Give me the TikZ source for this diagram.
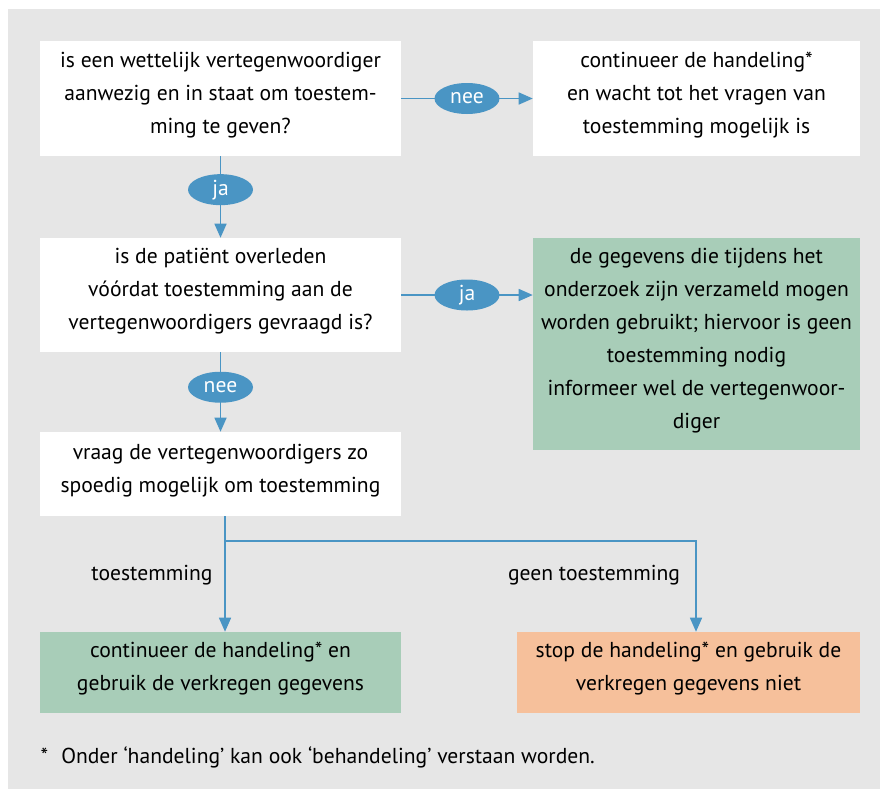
\documentclass[tikz,border=0pt]{standalone}
\usepackage{fontspec}
\setmainfont{PT Sans}
\usetikzlibrary{arrows.meta, shapes.geometric}

\definecolor{bggrey}{HTML}{E6E6E6}
\definecolor{boxgreen}{HTML}{A8CDB8}
\definecolor{boxorange}{HTML}{F6C09B}
\definecolor{flowblue}{HTML}{4A95C4}

\begin{document}
\begin{tikzpicture}[
  x=0.75pt, y=-0.75pt,
  box/.style={rectangle, fill=white, minimum width=270.75pt, align=center,
              inner sep=0pt, text depth=9pt, font=\fontsize{16.2}{24.75}\selectfont},
  answer/.style={ellipse, fill=flowblue, text=white, minimum width=48.75pt,
                 minimum height=23.25pt, inner sep=0pt, font=\fontsize{16.2}{18}\selectfont},
  flow/.style={draw=flowblue, line width=1.1pt, -{Triangle[length=10.5pt, width=9pt]}},
  lbl/.style={font=\fontsize{16.2}{18}\selectfont}
]

\useasboundingbox (0,0) rectangle (880,789);
\fill[bggrey] (8,9) rectangle (880,789);

% Question: representative present
\node[box, minimum height=86.25pt] (present) at (220.5,98.5) {
  is een wettelijk vertegenwoordiger\\
  aanwezig en in staat om toestem-\\
  ming te geven?
};

% Wait
\node[box, minimum width=245.25pt, minimum height=86.25pt] (wait) at (696.5,98.5) {
  continueer de handeling*\\
  en wacht tot het vragen van\\
  toestemming mogelijk is
};

% Question: patient deceased
\node[box, minimum height=85.5pt] (deceased) at (220.5,295) {
  is de patiënt overleden\\
  vóórdat toestemming aan de\\
  vertegenwoordigers gevraagd is?
};

% Data may be used
\node[box, fill=boxgreen, minimum width=245.25pt, minimum height=159pt] (usedata) at (696.5,344) {
  de gegevens die tijdens het\\
  onderzoek zijn verzameld mogen\\
  worden gebruikt; hiervoor is geen\\
  toestemming nodig\\
  informeer wel de vertegenwoor-\\
  diger
};

% Ask for consent
\node[box, minimum height=63pt] (ask) at (220.5,474) {
  vraag de vertegenwoordigers zo\\
  spoedig mogelijk om toestemming
};

% Continue
\node[box, fill=boxgreen, minimum height=60.75pt] (continue) at (220.5,672.5) {
  continueer de handeling* en\\
  gebruik de verkregen gegevens
};

% Stop
\node[box, fill=boxorange, minimum width=257.25pt, minimum height=60.75pt] (stop) at (688.5,672.5) {
  stop de handeling* en gebruik de\\
  verkregen gegevens niet
};

% Answers
\draw[flow] (present.east) -- node[answer] {nee} (wait.west);
\draw[flow] (present.south) -- node[answer, pos=0.41] {ja} (deceased.north);
\draw[flow] (deceased.east) -- node[answer] {ja} (deceased.east -| usedata.west);
\draw[flow] (deceased.south) -- node[answer, pos=0.44] {nee} (ask.north);

% Split
\coordinate (splitL) at (225,541);
\coordinate (splitR) at (696,541);
\draw[flow] (ask.south -| splitL) -- (continue.north -| splitL);
\draw[flow] (splitL) -- (splitR) -- (splitR |- stop.north);

\node[lbl] (yes) at (152,575) {toestemming};
\node[lbl] (no) at (594,575) {geen toestemming};

% Footnote
\node[lbl, anchor=west] (note) at (36,757) {*\hspace{0.6em}Onder ‘handeling’ kan ook ‘behandeling’ verstaan worden.};

\end{tikzpicture}
\end{document}
